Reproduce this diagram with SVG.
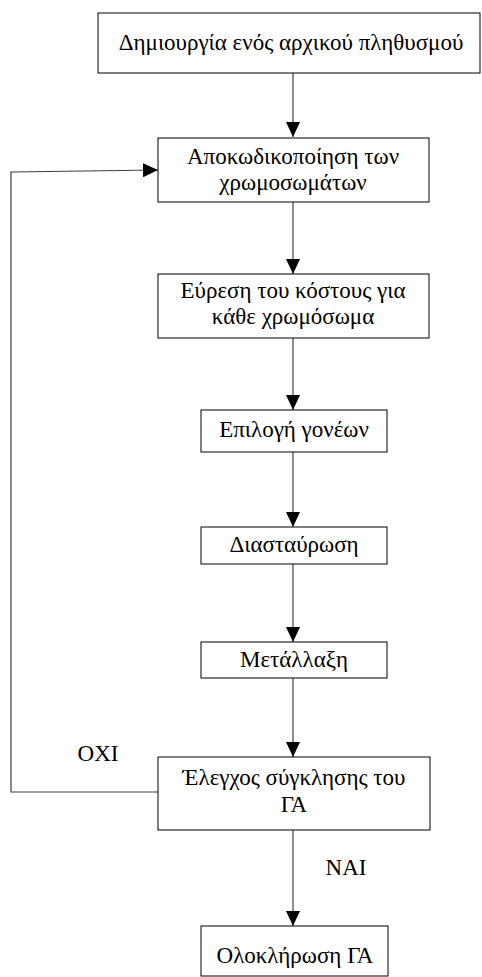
<svg xmlns="http://www.w3.org/2000/svg" width="482" height="977" viewBox="0 0 482 977">
<defs>
<marker id="ah" markerUnits="userSpaceOnUse" markerWidth="16" markerHeight="16" refX="15" refY="7" orient="auto">
<path d="M0,0 L15,7 L0,14 z" fill="#000"/>
</marker>
</defs>
<rect width="482" height="977" fill="#fff"/>
<g id="connectors" fill="none" stroke="#404040" stroke-width="1.2">
<line x1="293" y1="73" x2="293" y2="137" marker-end="url(#ah)"/>
<line x1="293" y1="202" x2="293" y2="274" marker-end="url(#ah)"/>
<line x1="293" y1="338" x2="293" y2="410" marker-end="url(#ah)"/>
<line x1="293" y1="452" x2="293" y2="527" marker-end="url(#ah)"/>
<line x1="293" y1="564" x2="293" y2="642" marker-end="url(#ah)"/>
<line x1="293" y1="678" x2="293" y2="757" marker-end="url(#ah)"/>
<line x1="293" y1="830" x2="293" y2="926" marker-end="url(#ah)"/>
<polyline points="158,792 11,792 11,172 158,170" marker-end="url(#ah)"/>
</g>
<text x="98" y="761" font-family="Times New Roman" font-size="23" text-anchor="middle">ΟΧΙ</text>
<text x="346" y="875" font-family="Times New Roman" font-size="23" text-anchor="middle">ΝΑΙ</text>
<g id="n1"><rect x="98" y="13" width="382" height="60" fill="#fff" stroke="#000"/><text x="291" y="50" font-family="Times New Roman" font-size="23" text-anchor="middle">Δημιουργία ενός αρχικού πληθυσμού</text></g>
<g id="n2"><rect x="158" y="138" width="271" height="64" fill="#fff" stroke="#000"/><text x="293" y="164" font-family="Times New Roman" font-size="23" text-anchor="middle">Αποκωδικοποίηση των</text><text x="293" y="190" font-family="Times New Roman" font-size="23" text-anchor="middle">χρωμοσωμάτων</text></g>
<g id="n3"><rect x="158" y="274" width="271" height="64" fill="#fff" stroke="#000"/><text x="293" y="298" font-family="Times New Roman" font-size="23" text-anchor="middle">Εύρεση του κόστους για</text><text x="293" y="324" font-family="Times New Roman" font-size="23" text-anchor="middle">κάθε χρωμόσωμα</text></g>
<g id="n4"><rect x="201" y="410" width="186" height="42" fill="#fff" stroke="#000"/><text x="294" y="437" font-family="Times New Roman" font-size="23" text-anchor="middle">Επιλογή γονέων</text></g>
<g id="n5"><rect x="201" y="527" width="186" height="37" fill="#fff" stroke="#000"/><text x="294" y="552" font-family="Times New Roman" font-size="23" text-anchor="middle">Διασταύρωση</text></g>
<g id="n6"><rect x="201" y="642" width="186" height="36" fill="#fff" stroke="#000"/><text x="294" y="667" font-family="Times New Roman" font-size="23" text-anchor="middle">Μετάλλαξη</text></g>
<g id="n7"><rect x="158" y="757" width="272" height="73" fill="#fff" stroke="#000"/><text x="294" y="785" font-family="Times New Roman" font-size="23" text-anchor="middle">Έλεγχος σύγκλησης του</text><text x="294" y="812" font-family="Times New Roman" font-size="23" text-anchor="middle">ΓΑ</text></g>
<g id="n8"><rect x="201" y="926" width="187" height="50" fill="#fff" stroke="#000"/><text x="295" y="963" font-family="Times New Roman" font-size="23" text-anchor="middle">Ολοκλήρωση ΓΑ</text></g>
</svg>
